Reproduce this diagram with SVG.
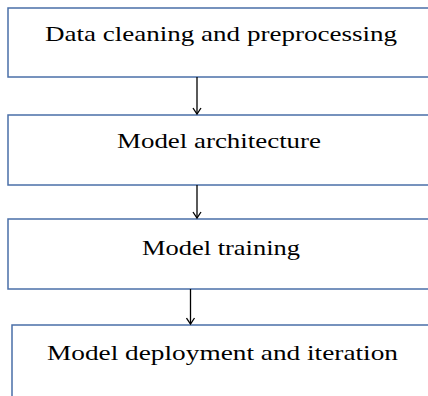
<svg xmlns="http://www.w3.org/2000/svg" width="428" height="396" viewBox="0 0 428 396">
<defs>
<style>
.box{fill:#ffffff;stroke:#4a6fa8;stroke-width:1.5}
.lbl{font-family:"Liberation Serif","Times New Roman",serif;font-size:22px;fill:#000000}
.con{stroke:#000000;stroke-width:1.3;fill:none}
</style>
<marker id="arr" markerWidth="10" markerHeight="10" refX="7" refY="5" orient="auto" markerUnits="userSpaceOnUse" viewBox="0 0 10 10">
<path d="M1,1 L7,5 L1,9" fill="none" stroke="#000" stroke-width="1.3"/>
</marker>
</defs>
<rect x="0" y="0" width="428" height="396" fill="#ffffff"/>
<g id="node1">
<rect class="box" x="8" y="8" width="440" height="69"/>
<text class="lbl" x="45" y="41" textLength="352" lengthAdjust="spacingAndGlyphs">Data cleaning and preprocessing</text>
</g>
<g id="node2">
<rect class="box" x="8" y="115" width="440" height="70"/>
<text class="lbl" x="117" y="148" textLength="204" lengthAdjust="spacingAndGlyphs">Model architecture</text>
</g>
<g id="node3">
<rect class="box" x="8" y="219" width="440" height="70"/>
<text class="lbl" x="142" y="255" textLength="158" lengthAdjust="spacingAndGlyphs">Model training</text>
</g>
<g id="node4">
<rect class="box" x="12" y="325" width="440" height="90"/>
<text class="lbl" x="47" y="360" textLength="351" lengthAdjust="spacingAndGlyphs">Model deployment and iteration</text>
</g>
<g id="connectors">
<line class="con" x1="197" y1="77" x2="197" y2="114" marker-end="url(#arr)"/>
<line class="con" x1="197" y1="185" x2="197" y2="218" marker-end="url(#arr)"/>
<line class="con" x1="190.5" y1="289" x2="190.5" y2="324" marker-end="url(#arr)"/>
</g>
</svg>
